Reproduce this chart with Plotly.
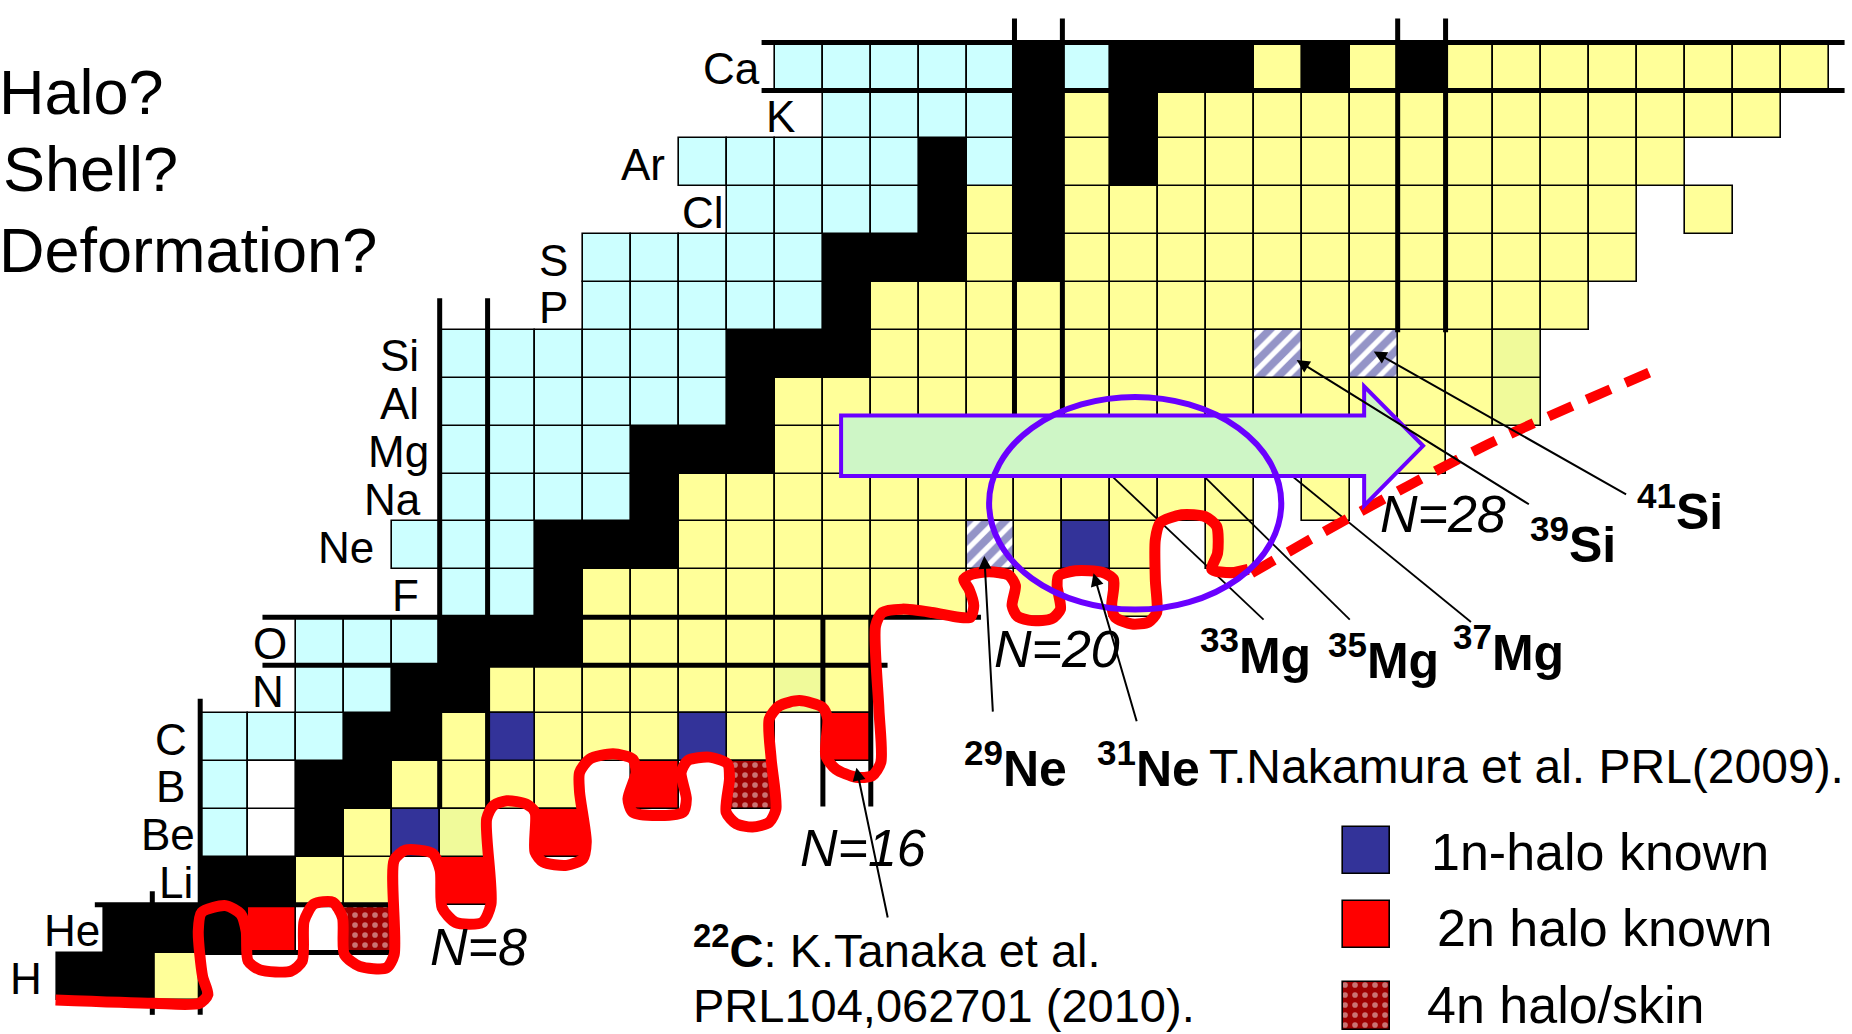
import plotly.graph_objects as go

# ---------------------------------------------------------------- data
elements = ["H", "He", "Li", "Be", "B", "C", "N", "O", "F", "Ne",
            "Na", "Mg", "Al", "Si", "P", "S", "Cl", "Ar", "K", "Ca"]

# neutron number of the first isotope drawn in each row (Z = 1 .. 20)
first_n = [0, 1, 3, 3, 3, 3, 5, 5, 8, 7, 8, 8, 8, 8, 11, 11, 14, 13, 16, 15]

# one character per isotope, N increasing from first_n
# K stable, B proton rich, Y neutron rich, P weakly known, W unbound (boxed),
# H 1n halo, R 2n halo, D 4n halo/skin, S halo candidate, . not drawn
status = [
    "KKY",                          # H
    "KKKR.D",                       # He
    "KKYY.R",                       # Li
    "BWKYHP.R",                     # Be
    "BWKKYYYY.R.D",                 # B
    "BBBKKYHYYYHY.R",               # C
    "BBKKYYYYYYPY",                 # N
    "BBBKKKYYYYYY",                 # O
    "BBKYYYYYYYY.Y.Y",              # F
    "BBBKKKYYYYYYSYHY.Y",           # Ne
    "BBBBKYYYYYYYYYYYY.Y",          # Na
    "BBBBKKKYYYYYYYYYYYYYY",        # Mg
    "BBBBBBKYYYYYYYYYYYYYYYP",      # Al
    "BBBBBBKKKYYYYYYYYSYSYYP",      # Si
    "BBBBBKYYYYYYYYYYYYYYY",        # P
    "BBBBBKKKYKYYYYYYYYYYYY",       # S
    "BBBBKYKYYYYYYYYYYYY.Y",        # Cl
    "BBBBBKBKYKYYYYYYYYYYY",        # Ar
    "BBBBKYKYYYYYYYYYYYYY",         # K
    "BBBBBKBKKKYKYKYYYYYYYY",       # Ca
]

magic_numbers_n = [2, 8, 16, 20, 28]
magic_numbers_z = [2, 8, 20]

# neutron drip-line sketch (N, Z), winding round the halo nuclei
drip_n = [-0.52, 1.52, 2.48, 2.66, 2.55, 2.46, 2.53, 3.03, 3.35, 3.46, 3.50, 3.75, 4.39,
          4.63, 4.67, 4.87, 5.27, 5.47, 5.51, 5.83, 6.39, 6.55, 6.55, 6.79, 7.35, 7.51,
          7.55, 7.83, 8.39, 8.57, 8.48, 8.62, 8.90, 9.31, 9.49, 9.49, 9.66, 10.15, 10.49,
          10.56, 10.42, 10.42, 10.63, 11.12, 11.53, 11.60, 11.43, 11.53, 12.09, 12.58,
          12.65, 12.54, 12.68, 13.13, 13.51, 13.55, 13.48, 13.69, 14.03, 14.38, 14.52,
          14.42, 14.38, 14.59, 15.01, 15.49, 15.60, 15.56, 15.77, 16.19, 16.53, 16.71,
          16.67, 16.60, 16.74, 17.16, 17.78, 18.34, 18.58, 18.65, 18.55, 18.44, 18.62,
          18.97, 19.38, 19.52, 19.45, 19.56, 19.87, 20.28, 20.46, 20.39, 20.42, 20.77,
          21.33, 21.57, 21.53, 21.60, 21.95, 22.30, 22.47, 22.44, 22.44, 22.54, 22.99,
          23.48, 23.72, 23.74, 23.62, 24.03, 24.38]
drip_z = [0.51, 0.44, 0.44, 0.62, 1.00, 1.95, 2.34, 2.48, 2.30, 1.95, 1.32, 1.14, 1.11,
          1.32, 2.16, 2.51, 2.55, 2.23, 1.46, 1.21, 1.18, 1.46, 3.43, 3.64, 3.57, 3.22,
          2.44, 2.13, 2.13, 2.51, 4.29, 4.57, 4.67, 4.60, 4.43, 3.60, 3.39, 3.32, 3.46,
          3.81, 4.85, 5.26, 5.54, 5.65, 5.54, 5.26, 4.71, 4.43, 4.36, 4.43,
          4.71, 5.26, 5.51, 5.58, 5.44, 5.13, 4.43, 4.19, 4.12, 4.22, 4.50,
          5.54, 6.38, 6.65, 6.76, 6.62, 6.38, 5.61, 5.33, 5.16, 5.19, 5.47,
          6.58, 8.32, 8.60, 8.67, 8.60, 8.50, 8.50, 8.74, 9.09, 9.29, 9.40,
          9.45, 9.38, 9.16, 8.74, 8.52, 8.43, 8.47, 8.67, 9.16, 9.36, 9.47,
          9.44, 9.29, 8.74, 8.50, 8.36, 8.40, 8.60, 9.29, 10.12, 10.47, 10.64,
          10.60, 10.40, 9.84, 9.50, 9.43, 9.50]

# predicted continuation of the drip line beyond N = 24
drip_pred_n = [24.45, 25.90, 29.28, 32.96]
drip_pred_z = [9.42, 10.25, 12.06, 13.70]

legend_items = ["1n-halo known", "2n halo known", "4n halo/skin"]
questions = ["Halo?", "Shell?", "Deformation?"]

# ---------------------------------------------------------------- styles
FONT = "Liberation Sans, Arial, sans-serif"
CELL = 1.0
FILL = {"K": "#000000", "B": "#CCFFFF", "Y": "#FFFF99", "P": "#F0FA9A",
        "W": "#FFFFFF", "H": "#333399", "R": "#FF0000"}
VIOLET = "#6A00FF"
STRIPES = dict(shape="/", fgcolor="#2A2A90", bgcolor="white", size=13, solidity=0.6)
DOTS = dict(shape=".", fgcolor="#F4E6E6", bgcolor="#9E0000", size=10, solidity=0.25)

fig = go.Figure()

# ---------------------------------------------------------------- cells
groups = {}
for z, (n0, row) in enumerate(zip(first_n, status), start=1):
    for k, code in enumerate(row):
        if code == ".":
            continue
        groups.setdefault(code, ([], []))
        groups[code][0].append(n0 + k)
        groups[code][1].append(z - CELL / 2)


def cell_marker(code):
    marker = dict(line=dict(color="black", width=1.6))
    if code == "S":
        marker.update(color="white", pattern=STRIPES)
    elif code == "D":
        marker.update(color="#9E0000", pattern=DOTS)
    else:
        marker.update(color=FILL[code])
    return marker


for code, (ns, bases) in groups.items():
    fig.add_trace(go.Bar(x=ns, y=[CELL] * len(ns), base=bases, width=CELL,
                         marker=cell_marker(code), hoverinfo="skip", showlegend=False))

# ---------------------------------------------------------------- magic numbers
v_extent = {2: [(0.2, 2.78), (0.2, 6.8)], 8: [(4.5, 15.16), (4.5, 15.16)],
            16: [(4.55, 8.5), (4.55, 8.5)], 20: [(11.6, 21.0), (11.6, 21.0)],
            28: [(14.45, 21.0), (14.45, 21.0)]}
h_extent = {2: [(2.5, 6.5), (0.3, 6.5)], 8: [(3.8, 16.85), (3.8, 18.8)],
            20: [(14.22, 36.83), (14.22, 36.83)]}
mx, my = [], []
for n in magic_numbers_n:
    for side, (lo, hi) in zip((-0.5, 0.5), v_extent[n]):
        mx += [n + side, n + side, None]
        my += [lo, hi, None]
for z in magic_numbers_z:
    for side, (lo, hi) in zip((-0.5, 0.5), h_extent[z]):
        mx += [lo, hi, None]
        my += [z + side, z + side, None]
fig.add_trace(go.Scatter(x=mx, y=my, mode="lines", line=dict(color="black", width=5),
                         hoverinfo="skip", showlegend=False))

# leader lines from 33Mg, 35Mg, 37Mg to their labels (start hidden below the arrow)
lead_x, lead_y = [], []
for (x0, y0), (x1, y1) in [((20.95, 12.0), (24.70, 8.45)),
                           ((22.89, 12.0), (26.50, 8.45)),
                           ((24.62, 12.0), (29.03, 8.40))]:
    lead_x += [x0, x1, None]
    lead_y += [y0, y1, None]
fig.add_trace(go.Scatter(x=lead_x, y=lead_y, mode="lines", line=dict(color="black", width=1.8),
                         hoverinfo="skip", showlegend=False))

# ---------------------------------------------------------------- drip line
fig.add_trace(go.Scatter(x=drip_n, y=drip_z, mode="lines",
                         line=dict(color="#FF0000", width=11, shape="spline", smoothing=0.7),
                         hoverinfo="skip", showlegend=False))
fig.add_trace(go.Scatter(x=drip_pred_n, y=drip_pred_z, mode="lines",
                         line=dict(color="#FF0000", width=10, shape="spline", smoothing=0.8,
                                   dash="26px,16px"),
                         hoverinfo="skip", showlegend=False))

# ---------------------------------------------------------------- legend swatches
sw_x = 26.85
sw_base = [3.14, 1.59, -0.11]
sw_codes = ["H", "R", "D"]
for b, code in zip(sw_base, sw_codes):
    fig.add_trace(go.Bar(x=[sw_x], y=[0.99], base=[b], width=0.99, marker=cell_marker(code),
                         hoverinfo="skip", showlegend=False))

# ---------------------------------------------------------------- shapes
shapes = [
    dict(type="path", xref="x", yref="y", layer="above",
         path="M 15.88,12.71 L 26.80,12.71 L 26.80,13.32 L 28.03,12.08 "
              "L 26.80,10.83 L 26.80,11.45 L 15.88,11.45 Z",
         fillcolor="#CEF6C6", line=dict(color=VIOLET, width=4)),
    dict(type="circle", xref="x", yref="y", layer="above",
         x0=18.97, x1=25.07, y0=8.66, y1=13.10,
         line=dict(color=VIOLET, width=6)),
]

# ---------------------------------------------------------------- annotations
ann = []


def text(x, y, s, size, anchor="center", xref="x", yref="y", **kw):
    font = dict(family=FONT, size=size, color="black")
    font.update(kw.pop("font", {}))
    ann.append(dict(x=x, y=y, xref=xref, yref=yref, text=s, showarrow=False,
                    xanchor=anchor, yanchor="middle", font=font, **kw))


label_right = {"H": -0.77, "He": 0.46, "Li": 2.39, "Be": 2.44, "B": 2.22, "C": 2.27,
               "N": 4.29, "O": 4.36, "F": 7.12, "Ne": 6.16, "Na": 7.15, "Mg": 7.32,
               "Al": 7.12, "Si": 7.12, "P": 10.22, "S": 10.22, "Cl": 13.48,
               "Ar": 12.24, "K": 14.96, "Ca": 14.22}
for z, el in enumerate(elements, start=1):
    text(label_right[el], z, el, 44, anchor="right", yshift=-2)

# questions along the left edge (paper coordinates)
for q, y, x in zip(questions, [0.911, 0.8366, 0.758], [0.0, 0.002, 0.0]):
    text(x, y, q, 63, anchor="left", xref="paper", yref="paper", xshift=-3)

for n, (x, y) in zip([8, 16, 20, 28], [(8.31, 1.61), (16.34, 3.68), (20.39, 7.83), (28.45, 10.66)]):
    text(x, y, f"N={n}", 52, font=dict(style="italic"))


def nuc(a, sym):
    return f"<b><sup>{a}</sup>{sym}</b>"


text(24.54, 7.78, nuc(33, "Mg"), 50)
text(27.21, 7.68, nuc(35, "Mg"), 50)
text(29.82, 7.83, nuc(37, "Mg"), 50)
text(31.15, 10.09, nuc(39, "Si"), 50)
text(33.39, 10.78, nuc(41, "Si"), 50)
text(19.52, 5.41, nuc(29, "Ne"), 50)
text(22.29, 5.41, nuc(31, "Ne"), 50)
text(23.52, 5.38, "T.Nakamura et al. PRL(2009).", 48, anchor="left")
text(12.75, 1.62, nuc(22, "C") + ": K.Tanaka et al.", 47, anchor="left")
text(12.75, 0.40, "PRL104,062701 (2010).", 47, anchor="left")

for s, x, y in zip(legend_items, [28.15, 28.27, 28.08], [3.59, 2.01, 0.40]):
    text(x, y, s, 52, anchor="left")

# pointer arrows: (head N, head Z, tail N, tail Z)
for hx, hy, tx, ty in [(18.87, 9.78, 19.05, 6.50),
                       (21.15, 9.42, 22.06, 6.30),
                       (16.20, 5.36, 16.86, 2.20),
                       (25.39, 13.87, 30.27, 10.84),
                       (27.00, 14.05, 32.30, 11.05)]:
    ann.append(dict(x=hx, y=hy, ax=tx, ay=ty, xref="x", yref="y", axref="x", ayref="y",
                    text="", showarrow=True, arrowhead=2, arrowsize=1.3, arrowwidth=2,
                    arrowcolor="black", standoff=0))

fig.update_layout(
    width=1852, height=1034,
    margin=dict(l=0, r=0, t=0, b=0),
    paper_bgcolor="white", plot_bgcolor="white",
    barmode="overlay", bargap=0,
    xaxis=dict(range=[-1.6796, 36.985], visible=False, fixedrange=True),
    yaxis=dict(range=[-0.200, 21.387], visible=False, fixedrange=True),
    shapes=shapes, annotations=ann, showlegend=False,
)

fig.write_html("out.html")
